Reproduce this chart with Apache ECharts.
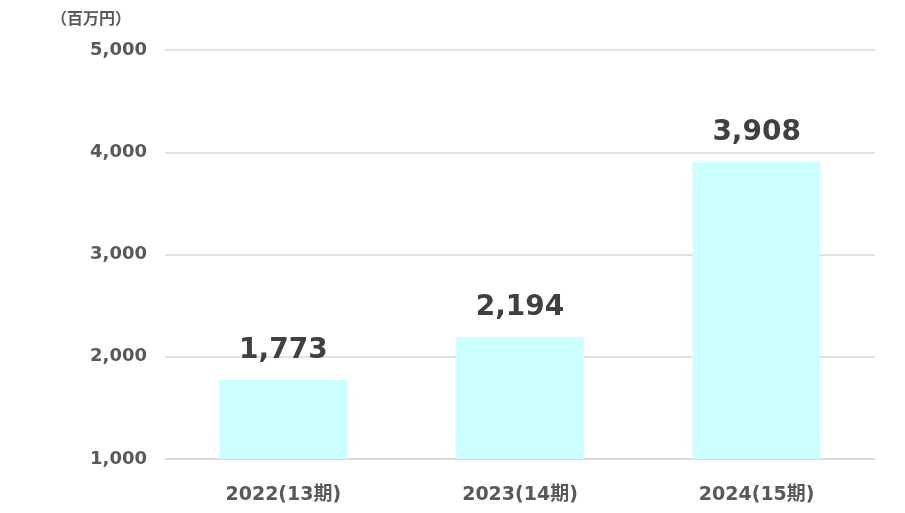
<!DOCTYPE html>
<html>
<head>
<meta charset="utf-8">
<script src="https://cdn.jsdelivr.net/npm/echarts@6/dist/echarts.min.js"></script>
<style>
  html, body { margin: 0; padding: 0; background: #fff; }
  #main { width: 905px; height: 513px; }
</style>
</head>
<body>
<div id="main"></div>
<script>
// data
var categories = ['2022(13期)', '2023(14期)', '2024(15期)'];
var sales = [1773, 2194, 3908];
var yMin = 1000, yMax = 5000, yStep = 1000;
var unitLabel = '（百万円）';

var chart = echarts.init(document.getElementById('main'));
var labelFont = '"DejaVu Sans", "Noto Sans CJK JP", sans-serif';

var option = {
  animation: false,
  backgroundColor: '#ffffff',
  grid: { left: 165, right: 30, top: 50, bottom: 54 },
  graphic: [{
    type: 'text',
    left: 51, top: 10,
    style: {
      text: unitLabel,
      fill: '#595959',
      font: 'bold 16px "Noto Sans CJK JP", sans-serif'
    }
  }],
  xAxis: {
    type: 'category',
    data: categories,
    axisLine: { show: true, lineStyle: { color: '#d9d9d9', width: 1.5 } },
    axisTick: { show: false },
    axisLabel: {
      color: '#595959',
      fontSize: 19,
      fontWeight: 'bold',
      fontFamily: labelFont,
      margin: 27
    }
  },
  yAxis: {
    type: 'value',
    min: yMin, max: yMax, interval: yStep,
    axisLine: { show: false },
    axisTick: { show: false },
    splitLine: { lineStyle: { color: '#d9d9d9', width: 1.5 } },
    axisLabel: {
      color: '#595959',
      fontSize: 18,
      fontWeight: 'bold',
      fontFamily: labelFont,
      margin: 18,
      formatter: function (v) { return v.toLocaleString('en-US'); }
    }
  },
  series: [{
    type: 'bar',
    data: sales,
    barWidth: '54%',
    itemStyle: { color: '#ccffff' },
    label: {
      show: true,
      position: 'top',
      distance: 15,
      color: '#404040',
      fontSize: 28,
      fontWeight: 'bold',
      fontFamily: labelFont,
      formatter: function (p) { return p.value.toLocaleString('en-US'); }
    }
  }]
};
chart.setOption(option);
</script>
</body>
</html>
